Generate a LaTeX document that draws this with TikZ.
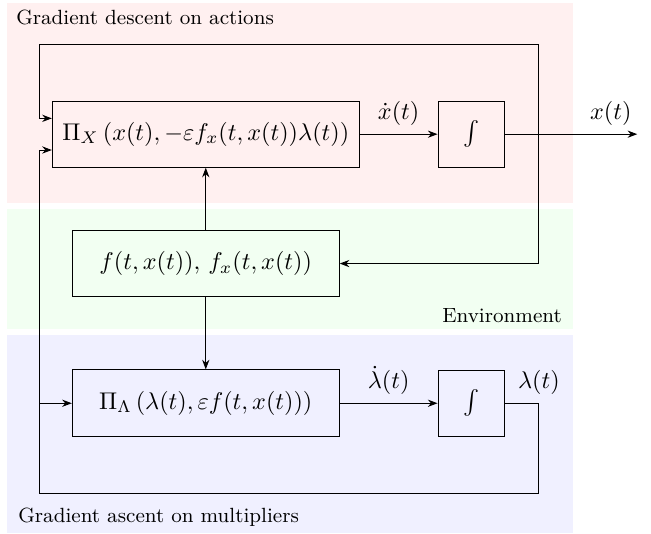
\documentclass[tikz,border=0pt]{standalone}
\usepackage{amsmath, amssymb}
\usepackage{tikz}
\usetikzlibrary{arrows.meta, positioning, calc}
\tikzset{
    blockbox/.style={rectangle, draw, minimum width=3.88cm, minimum height=0.97cm, inner sep=0pt},
    intbox/.style={rectangle, draw, minimum width=0.97cm, minimum height=0.96cm, inner sep=0pt},
    region/.style={font=\fontsize{8.5}{10}\selectfont, inner sep=0pt},
    actfill/.style={fill=red!6},
    envfill/.style={fill=green!5},
    mulfill/.style={fill=blue!6}
}

\begin{document}
\begin{tikzpicture}[>={Stealth[length=1.4mm]}]
  \useasboundingbox (0,0) rectangle (9.46,-7.75);
  \fill[actfill] (0.10,-0.04) rectangle (8.33,-2.95);
  \fill[envfill] (0.10,-3.04) rectangle (8.33,-4.78);
  \fill[mulfill] (0.10,-4.87) rectangle (8.33,-7.75);
  \node[region, anchor=west] (actlbl) at (0.23,-0.26) {Gradient descent on actions};
  \node[region, anchor=east] (envlbl) at (8.17,-4.58) {Environment};
  \node[region, anchor=west] (mullbl) at (0.26,-7.51) {Gradient ascent on multipliers};
  \node[blockbox, minimum width=4.46cm, minimum height=0.96cm] (pix) at (2.99,-1.95)
    {$\Pi_X\,(x(t), -\varepsilon f_x(t,x(t))\lambda(t))$};
  \node[intbox] (intx) at (6.85,-1.95) {$\int$};
  \node[blockbox] (env) at (2.99,-3.83) {$f(t,x(t)),\, f_x(t,x(t))$};
  \node[blockbox] (pil) at (2.99,-5.86) {$\Pi_\Lambda\left(\lambda(t), \varepsilon f(t,x(t))\right)$};
  \node[intbox] (intl) at (6.85,-5.86) {$\int$};
  \coordinate (xout) at (9.26,-1.95);
  \coordinate (jx) at (7.83,-1.95);
  \coordinate (tr) at (7.83,-0.64);
  \coordinate (tl) at (0.58,-0.64);
  \coordinate (br) at (7.83,-7.17);
  \coordinate (bl) at (0.58,-7.17);
  \draw[->] (pix) -- node[midway, above] (xdot) {$\dot{x}(t)$} (intx);
  \draw[->] (intx) -- node[pos=0.8, above] (xlbl) {$x(t)$} (xout);
  \draw[->] (jx) -- (tr) -- (tl) |- ([yshift=0.23cm]pix.west);
  \draw[->] (jx) |- (env.east);
  \draw[->] (env.north -| pix.south) -- (pix.south);
  \draw[->] (env.south) -- (pil.north);
  \draw[->] (pil) -- node[midway, above] (lamdot) {$\dot{\lambda}(t)$} (intl);
  \draw[->] (intl.east) -- node[pos=1, above] (lamlbl) {$\lambda(t)$} (intl.east -| br) -- (br) -- (bl) |- ([yshift=-0.23cm]pix.west);
  \draw[->] (bl |- pil.west) -- (pil.west);
\end{tikzpicture}
\end{document}
